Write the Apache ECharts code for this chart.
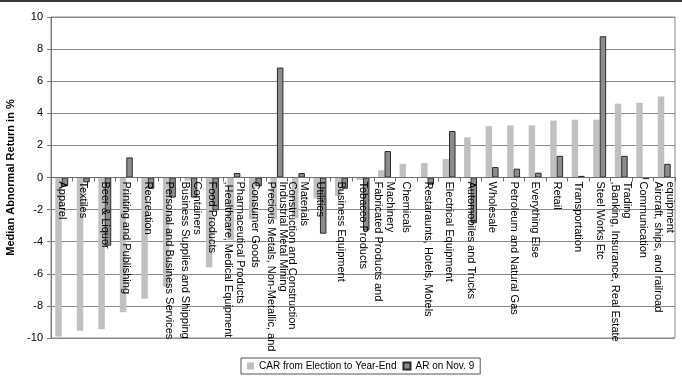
<!DOCTYPE html>
<html lang="en">
<head>
    <meta charset="UTF-8">
    <title>Median Abnormal Return by Industry</title>
    <script src="https://cdn.jsdelivr.net/npm/echarts@6/dist/echarts.min.js"></script>
    <style>
        body, html {
            margin: 0;
            padding: 0;
            background: #fff;
        }

        #chart {
            width: 682px;
            height: 377px;
        }
    </style>
</head>
<body>

<div id="chart"></div>

<script>
    // industries, in the order they appear on the axis
    const industries = [
        'Apparel',
        'Textiles',
        'Beer & Liquor',
        'Printing and Publishing',
        'Recreation',
        'Personal and Business Services',
        'Business Supplies and Shipping\nContainers',
        'Food Products',
        ',Healthcare, Medical Equipment\nPharmaceutical Products',
        'Consumer Goods',
        'Precious Metals, Non-Metallic, and\nIndustrial Metal Mining',
        'Construction and Construction\nMaterials',
        'Utilities',
        'Business Equipment',
        'Tobacco Products',
        'Fabricated Products and\nMachinery',
        'Chemicals',
        'Restaraunts, Hotels, Motels',
        'Electrical Equipment',
        'Automobiles and Trucks',
        'Wholesale',
        'Petroleum and Natural Gas',
        'Everything Else',
        'Retail',
        'Transportation',
        'Steel Works Etc',
        ',Banking, Insurance, Real Estate\nTrading',
        'Communication',
        'Aircraft, ships, and railroad\nequipment'
    ];

    // CAR from election to year-end (%)
    const carYearEnd = [
        -9.9, -9.55, -9.45, -8.4, -7.55, -6.8, -0.2, -5.6, -3.9, -2.6,
        -2.6, -2.55, -1.3, -1.15, -0.15, 0.45, 0.85, 0.9, 1.15, 2.5,
        3.2, 3.25, 3.25, 3.55, 3.6, 3.6, 4.6, 4.65, 5.05
    ];

    // abnormal return on Nov. 9 (%)
    const arNov9 = [
        -0.55, -0.3, -4.25, 1.25, -0.7, -1.25, -1.25, -2.05, 0.28, -0.55,
        6.85, 0.28, -3.5, -0.7, -3.3, 1.65, 0, -0.45, 2.9, -2.85,
        0.65, 0.55, 0.3, 1.35, 0.1, 8.8, 1.35, -0.1, 0.85
    ];

    const seriesNames = ['CAR from Election to Year-End', 'AR on Nov. 9'];
    const yMin = -10;
    const yMax = 10;
    const yStep = 2;

    const font = 'Liberation Sans, Arial, sans-serif';

    // plot box (px)
    const gridTop = 17;
    const gridBottom = 39;
    const plotHeight = 377 - gridTop - gridBottom;
    // lift the category axis (line, ticks and labels) up to the zero line
    const zeroOffset = -plotHeight * (0 - yMin) / (yMax - yMin);

    const chart = echarts.init(document.getElementById('chart'));

    const option = {
        animation: false,
        textStyle: {fontFamily: font},
        // thin dark line along the top edge of the picture
        graphic: [{
            type: 'rect',
            shape: {x: 0, y: 0, width: 682, height: 2},
            style: {fill: '#3a3a3a'}
        }],
        grid: {
            left: 51,
            right: 7,
            top: gridTop,
            bottom: gridBottom,
            outerBoundsMode: 'none',
            containLabel: false,
            show: true,
            borderColor: '#8a8a8a',
            borderWidth: 1
        },
        legend: {
            data: seriesNames,
            left: 241,
            top: 358,
            icon: 'rect',
            itemWidth: 7,
            itemHeight: 7,
            itemGap: 6,
            padding: [3, 6],
            borderColor: '#555',
            borderWidth: 1,
            textStyle: {fontSize: 10, color: '#000', fontFamily: font}
        },
        xAxis: {
            type: 'category',
            data: industries,
            z: 10,
            offset: zeroOffset,
            axisLine: {onZero: false, lineStyle: {color: '#6e6e6e', width: 1}},
            axisTick: {show: true, length: 4, lineStyle: {color: '#6e6e6e'}},
            axisLabel: {
                interval: 0,
                rotate: -90,
                margin: 4,
                fontSize: 11,
                lineHeight: 12,
                overflow: 'none',
                hideOverlap: false,
                color: '#000',
                fontFamily: font,
                // wrapped lines run left to right in the picture
                formatter: v => v.split('\n').reverse().join('\n')
            }
        },
        yAxis: {
            type: 'value',
            min: yMin,
            max: yMax,
            interval: yStep,
            name: 'Median Abnormal Return in %',
            nameLocation: 'middle',
            nameGap: 30,
            nameTextStyle: {fontSize: 11, fontWeight: 'bold', color: '#000', fontFamily: font},
            axisLine: {show: true, lineStyle: {color: '#7a7a7a'}},
            axisTick: {show: true, length: 4, lineStyle: {color: '#7a7a7a'}},
            axisLabel: {fontSize: 11, color: '#000', margin: 8, fontFamily: font},
            splitLine: {lineStyle: {color: '#8a8a8a', width: 1}}
        },
        series: [
            {
                name: seriesNames[0],
                type: 'bar',
                data: carYearEnd,
                barGap: '0%',
                barCategoryGap: '40%',
                itemStyle: {color: '#c0c0c0'}
            },
            {
                name: seriesNames[1],
                type: 'bar',
                data: arNov9,
                barGap: '0%',
                barCategoryGap: '40%',
                itemStyle: {color: '#8c8c8c', borderColor: '#2a2a2a', borderWidth: 1}
            }
        ]
    };

    chart.setOption(option);
</script>

</body>
</html>
